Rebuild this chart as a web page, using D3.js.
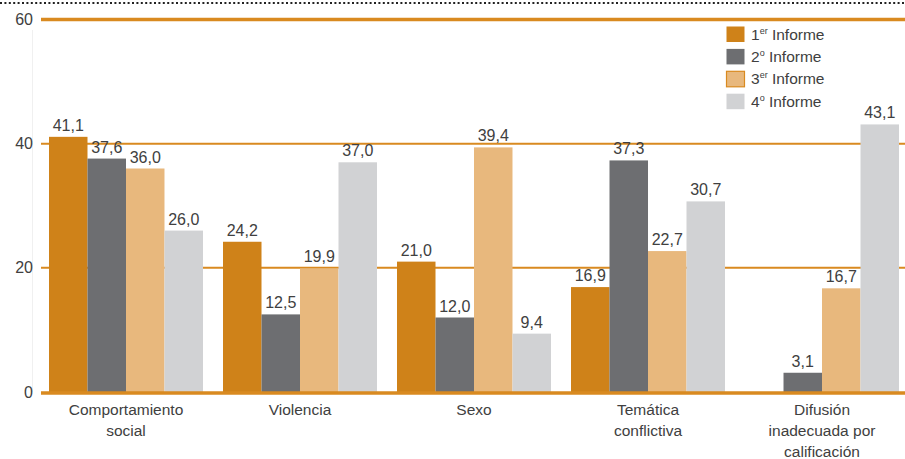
<!DOCTYPE html>
<html><head><meta charset="utf-8">
<script src="https://cdn.jsdelivr.net/npm/d3@7/dist/d3.min.js"></script>
<style>body{margin:0;background:#fff}svg{display:block}text{font-family:"Liberation Sans",Arial,sans-serif;fill:#404040}</style>
</head><body><svg id="c" width="905" height="459"></svg>
<script>
const categories = [["Comportamiento","social"],["Violencia"],["Sexo"],["Temática","conflictiva"],["Difusión","inadecuada por","calificación"]];
const seriesNames = [["1","er"," Informe"],["2","o"," Informe"],["3","er"," Informe"],["4","o"," Informe"]];
const informe1 = [41.1, 24.2, 21.0, 16.9, null];
const informe2 = [37.6, 12.5, 12.0, 37.3, 3.1];
const informe3 = [36.0, 19.9, 39.4, 22.7, 16.7];
const informe4 = [26.0, 37.0, 9.4, 30.7, 43.1];
const yTicks = [0, 20, 40, 60];
const colors = ["#cf8219", "#6d6e71", "#e8b87d", "#d1d2d4"];
const series = [informe1, informe2, informe3, informe4];

const svg = d3.select("#c");
const grid = "#d98a20";
const y = d3.scaleLinear().domain([0, 60]).range([392, 19.5]);
const x0 = d3.scaleBand().domain(d3.range(categories.length)).range([49, 899]).paddingInner(0.115).paddingOuter(0);
const x1 = d3.scaleBand().domain(d3.range(series.length)).range([0, x0.bandwidth()]).padding(0);

// top dotted line
svg.append("line").attr("x1", 0).attr("x2", 905).attr("y1", 3).attr("y2", 3)
  .attr("stroke", "#222").attr("stroke-width", 2).attr("stroke-dasharray", "2,2.4");

// faint axis line
svg.append("line").attr("x1", 32.5).attr("x2", 32.5).attr("y1", 30).attr("y2", 392)
  .attr("stroke", "#f0f0f0").attr("stroke-width", 1);

// gridlines
svg.append("g").selectAll("line").data(yTicks.filter(t => t > 0)).join("line")
  .attr("x1", 41).attr("x2", 905).attr("y1", d => y(d)).attr("y2", d => y(d))
  .attr("stroke", grid).attr("stroke-width", d => d === 60 ? 3.5 : 2);

// y tick labels
svg.append("g").selectAll("text").data(yTicks).join("text")
  .attr("x", 33).attr("y", d => y(d)).attr("dy", "0.35em").attr("text-anchor", "end")
  .attr("font-size", 16).text(d => d);

// bars
const groups = svg.append("g").selectAll("g").data(categories).join("g")
  .attr("transform", (d, i) => `translate(${x0(i)},0)`);
groups.each(function(cat, ci) {
  const g = d3.select(this);
  series.forEach((s, si) => {
    const v = s[ci];
    if (v == null) return;
    g.append("rect").attr("x", x1(si)).attr("width", x1.bandwidth())
      .attr("y", y(v)).attr("height", y(0) - y(v)).attr("fill", colors[si]);
    g.append("text").attr("x", x1(si) + x1.bandwidth() / 2).attr("y", y(v) - 6)
      .attr("text-anchor", "middle").attr("font-size", 16)
      .text(v.toFixed(1).replace(".", ","));
  });
});

// baseline
svg.append("line").attr("x1", 41).attr("x2", 905).attr("y1", y(0) + 1).attr("y2", y(0) + 1)
  .attr("stroke", grid).attr("stroke-width", 3.5);

// category labels
const cl = svg.append("g").selectAll("text").data(categories).join("text")
  .attr("text-anchor", "middle").attr("font-size", 15.5)
  .attr("transform", (d, i) => `translate(${x0(i) + x0.bandwidth() / 2},415)`);
cl.selectAll("tspan").data(d => d).join("tspan")
  .attr("x", 0).attr("y", (d, i) => i * 21).text(d => d);

// legend
const lg = svg.append("g").attr("transform", "translate(726,26)");
const items = lg.selectAll("g").data(seriesNames).join("g")
  .attr("transform", (d, i) => `translate(0,${i * 22.4})`);
items.append("rect").attr("x", 0.5).attr("y", 0.5).attr("width", 18).attr("height", 15.5)
  .attr("fill", (d, i) => colors[i])
  .attr("stroke", (d, i) => i === 2 ? grid : "none").attr("stroke-width", 1.2);
const lt = items.append("text").attr("x", 25).attr("y", 13.5).attr("font-size", 15.5);
lt.append("tspan").text(d => d[0]);
lt.append("tspan").attr("font-size", 9).attr("dy", -6).text(d => d[1]);
lt.append("tspan").attr("dy", 6).text(d => d[2]);
</script></body></html>
